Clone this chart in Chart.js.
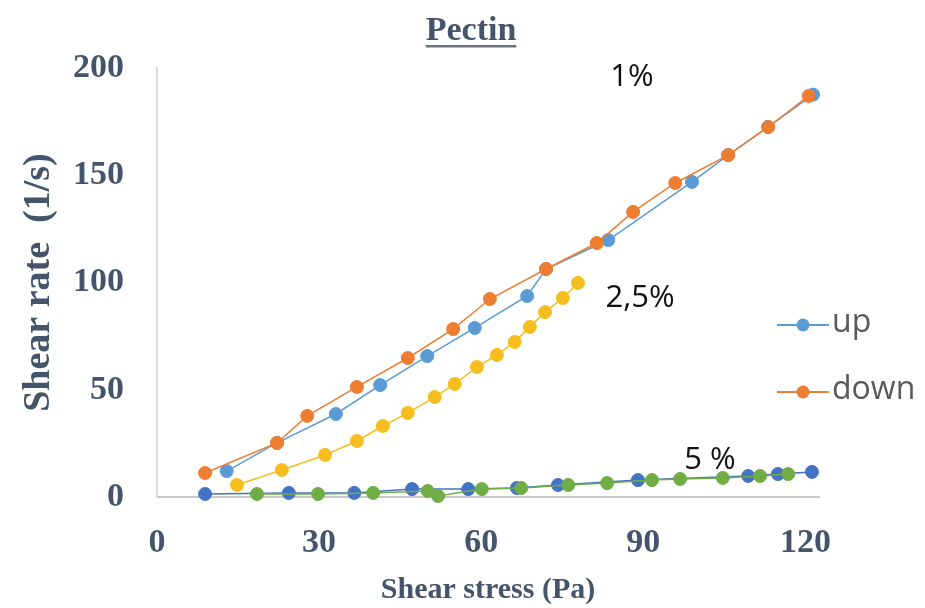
<!DOCTYPE html>
<html>
<head>
<meta charset="utf-8">
<script src="https://cdn.jsdelivr.net/npm/chart.js@4"></script>
<style>
  html, body { margin: 0; padding: 0; background: #fff; }
</style>
</head>
<body>
<canvas id="myChart1" width="925" height="608"></canvas>
<script>
// Values
const chartTitle = 'Pectin';
const xTicks = [0, 30, 60, 90, 120];
const yTicks = [0, 50, 100, 150, 200];

// 1 %
const up1X = [12.9, 22.2, 33.1, 41.3, 50.0, 58.8, 68.5, 72.0, 83.5, 99.0, 105.7, 113.1, 121.4];
const up1Y = [12.1, 25.2, 38.7, 52.2, 65.7, 78.8, 93.7, 106.3, 119.8, 146.9, 159.4, 172.5, 187.6];
const down1X = [8.9, 22.2, 27.8, 37.0, 46.4, 54.8, 61.6, 72.0, 81.4, 88.1, 95.9, 105.7, 113.1, 120.6];
const down1Y = [11.2, 25.2, 37.8, 51.3, 64.8, 78.3, 92.3, 106.3, 118.4, 132.9, 146.4, 159.4, 172.5, 187.0];
// 2,5 %
const mid25X = [14.8, 23.1, 31.1, 37.0, 41.8, 46.4, 51.4, 55.1, 59.2, 62.9, 66.2, 69.0, 71.8, 75.1, 77.9];
const mid25Y = [5.6, 12.6, 19.6, 26.1, 33.1, 39.2, 46.6, 52.7, 60.6, 66.2, 72.3, 79.3, 86.2, 92.8, 99.8];
// 5 %
const up5X = [8.9, 24.4, 36.5, 47.2, 57.6, 66.6, 74.2, 89.0, 109.4, 114.9, 121.2];
const up5Y = [1.4, 1.9, 1.9, 3.7, 3.7, 4.2, 5.6, 7.9, 9.8, 10.7, 11.7];
const down5X = [18.5, 29.8, 40.0, 50.1, 52.0, 60.1, 67.4, 76.1, 83.3, 91.6, 96.8, 104.7, 111.6, 116.8];
const down5Y = [1.4, 1.4, 1.9, 2.8, 0.5, 3.7, 4.2, 5.6, 6.5, 7.9, 8.4, 8.9, 9.8, 10.7];

// labels written inside the plot
const noteText = ['1%', '2,5%', '5 %'];
const noteX = [87.9, 89.4, 102.3];
const noteY = [195.8, 92.8, 17.2];

const legendLabels = ['up', 'down'];

function pts(xs, ys) {
    return xs.map(function (v, i) { return { x: v, y: ys[i] }; });
}

function line(label, xs, ys, color) {
    return {
        label: label,
        data: pts(xs, ys),
        borderColor: color,
        backgroundColor: color,
        borderWidth: 1.5,
        pointRadius: 6.5,
        pointHoverRadius: 6.5,
        pointBorderWidth: 1,
        showLine: true,
        clip: false
    };
}

const textColor = '#44546A';

const extras = {
    id: 'extras',
    afterDraw(chart) {
        const ctx = chart.ctx;
        const sx = chart.scales.x, sy = chart.scales.y;
        ctx.save();
        // title with underline
        ctx.font = 'bold 34px "Liberation Serif"';
        ctx.fillStyle = textColor;
        ctx.textAlign = 'center';
        ctx.textBaseline = 'alphabetic';
        ctx.fillText(chartTitle, 471, 40);
        const w = ctx.measureText(chartTitle).width;
        ctx.fillStyle = '#6b7280';
        ctx.fillRect(471 - w / 2, 45, w, 2.5);

        // percent notes
        ctx.font = '31px "Open Sans"';
        ctx.fillStyle = '#111';
        ctx.textBaseline = 'middle';
        noteText.forEach(function (t, i) {
            ctx.fillText(t, sx.getPixelForValue(noteX[i]), sy.getPixelForValue(noteY[i]));
        });

        // legend (only the 1 % up / down series)
        const lx = chart.chartArea.right - 42;
        const ly = [325, 392];
        ctx.font = '32px "Open Sans"';
        ctx.textAlign = 'left';
        legendLabels.forEach(function (t, i) {
            const ds = chart.data.datasets.find(function (d) { return d.label === t; });
            const c = ds.borderColor;
            ctx.strokeStyle = c;
            ctx.lineWidth = 2;
            ctx.beginPath();
            ctx.moveTo(lx, ly[i]);
            ctx.lineTo(lx + 52, ly[i]);
            ctx.stroke();
            ctx.fillStyle = c;
            ctx.beginPath();
            ctx.arc(lx + 26, ly[i], 6.5, 0, Math.PI * 2);
            ctx.fill();
            ctx.fillStyle = '#595959';
            ctx.fillText(t, lx + 55, ly[i] - 2);
        });
        ctx.restore();
    }
};

new Chart(document.getElementById('myChart1'), {
    type: 'scatter',
    data: {
        datasets: [
            line('down', down1X, down1Y, '#ED7D31'),
            line('up', up1X, up1Y, '#5B9BD5'),
            line('2,5%', mid25X, mid25Y, '#F5BE1E'),
            line('5% down', down5X, down5Y, '#70AD47'),
            line('5% up', up5X, up5Y, '#4472C4')
        ]
    },
    options: {
        responsive: false,
        animation: false,
        layout: { padding: { top: 68, right: 106, left: 0, bottom: 0 } },
        plugins: {
            legend: { display: false },
            title: { display: false },
            tooltip: { enabled: false }
        },
        scales: {
            x: {
                type: 'linear',
                min: 0,
                max: 122.5,
                afterBuildTicks: function (s) { s.ticks = xTicks.map(function (v) { return { value: v }; }); },
                afterFit: function (s) { s.height = 111; },
                grid: { display: false, drawTicks: false },
                border: { display: true, color: '#c9c9c9', width: 2 },
                ticks: {
                    padding: 26,
                    maxRotation: 0,
                    font: { family: 'Liberation Serif', size: 34, weight: 'bold' },
                    color: textColor
                },
                title: {
                    display: true,
                    text: 'Shear stress (Pa)',
                    font: { family: 'Liberation Serif', size: 30, weight: 'bold' },
                    color: textColor,
                    padding: { top: 0, bottom: 0 }
                }
            },
            y: {
                type: 'linear',
                min: 0,
                max: 200,
                afterBuildTicks: function (s) { s.ticks = yTicks.map(function (v) { return { value: v }; }); },
                afterFit: function (s) { s.width = 157; },
                grid: { display: false, drawTicks: false },
                border: { display: true, color: '#d9d9d9', width: 2 },
                ticks: {
                    padding: 33,
                    font: { family: 'Liberation Serif', size: 34, weight: 'bold' },
                    color: textColor
                },
                title: {
                    display: true,
                    text: 'Shear rate  (1/s)',
                    font: { family: 'Liberation Serif', size: 38, weight: 'bold' },
                    color: textColor,
                    padding: { top: 16, bottom: 0 }
                }
            }
        }
    },
    plugins: [extras]
});
</script>
</body>
</html>
